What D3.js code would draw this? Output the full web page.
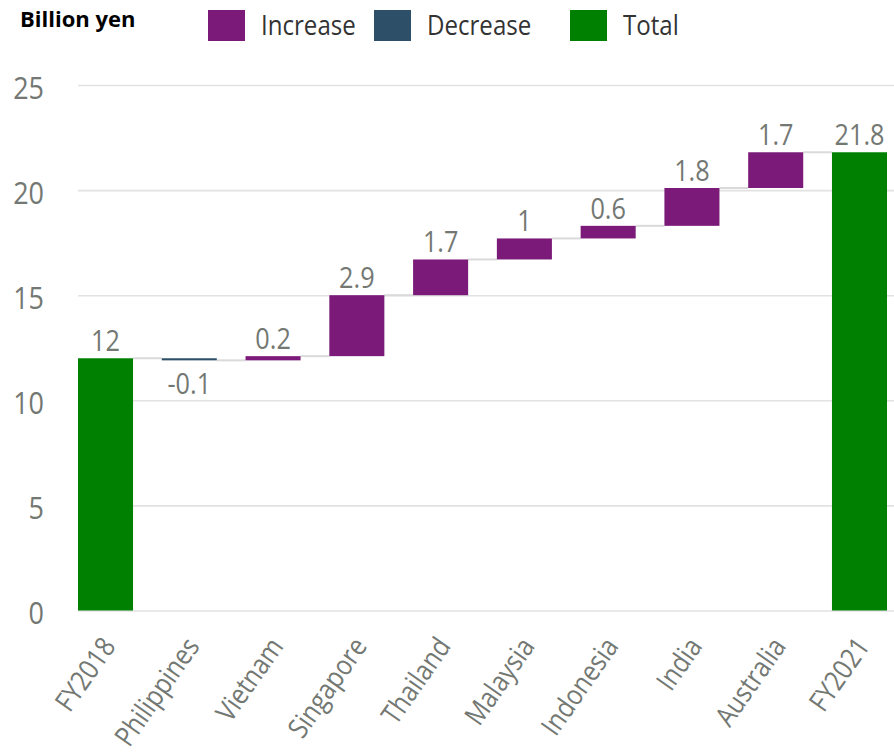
<!DOCTYPE html>
<html>
<head>
<meta charset="utf-8">
<script src="https://cdn.jsdelivr.net/npm/d3@7"></script>
<style>
  body { margin: 0; background: #fff; }
  text { font-family: "Open Sans", "Noto Sans", sans-serif; }
</style>
</head>
<body>
<svg id="chart" width="894" height="754"></svg>
<script>
// Waterfall: change in sales by country, FY2018 -> FY2021 (billion yen)
const categories = ["FY2018", "Philippines", "Vietnam", "Singapore", "Thailand",
                    "Malaysia", "Indonesia", "India", "Australia", "FY2021"];
const values = [12, -0.1, 0.2, 2.9, 1.7, 1, 0.6, 1.8, 1.7, 21.8];
const kinds = ["total", "decrease", "increase", "increase", "increase",
               "increase", "increase", "increase", "increase", "total"];
const yTicks = [0, 5, 10, 15, 20, 25];
const legendLabels = ["Increase", "Decrease", "Total"];
const legendKinds = ["increase", "decrease", "total"];
const unitLabel = "Billion yen";

const colors = { increase: "#7b1a78", decrease: "#2d5068", total: "#008000" };
const labelColor = "#737873";
const textScaleX = 0.87;

// running totals give each bar its start and end
let running = 0;
const bars = categories.map((c, i) => {
  let start, end;
  if (kinds[i] === "total") { start = 0; end = values[i]; }
  else { start = running; end = running + values[i]; }
  running = end;
  return { cat: c, value: values[i], kind: kinds[i], start, end };
});

const svg = d3.select("#chart");

const x = d3.scaleBand().domain(categories).range([78, 887])
  .paddingInner(0.343).paddingOuter(0);
const y = d3.scaleLinear().domain([0, 25]).range([610.5, 85]);

// gridlines + y tick labels
const yAxis = svg.append("g")
  .attr("transform", "translate(78,0)")
  .call(d3.axisLeft(y).tickValues(yTicks).tickSizeInner(-816).tickSizeOuter(0).tickFormat(d3.format("d")));
yAxis.select(".domain").remove();
yAxis.selectAll(".tick line").attr("stroke", "#e2e2e2").attr("stroke-width", 1.6);
yAxis.selectAll(".tick text")
  .attr("x", null).attr("dy", "0.42em")
  .attr("transform", `translate(-34,0) scale(${textScaleX},1)`)
  .attr("text-anchor", "end")
  .attr("fill", labelColor)
  .style("font-size", "31px");

// connectors between consecutive bars at the running total
svg.append("g").selectAll("line")
  .data(bars.slice(0, -1))
  .join("line")
  .attr("x1", (d) => x(d.cat) + x.bandwidth())
  .attr("x2", (d, i) => x(categories[i + 1]))
  .attr("y1", (d) => y(d.end))
  .attr("y2", (d) => y(d.end))
  .attr("stroke", "#dadada")
  .attr("stroke-width", 2);

// bars
svg.append("g").selectAll("rect")
  .data(bars)
  .join("rect")
  .attr("x", (d) => x(d.cat))
  .attr("width", x.bandwidth())
  .attr("y", (d) => y(Math.max(d.start, d.end)))
  .attr("height", (d) => Math.abs(y(d.start) - y(d.end)))
  .attr("fill", (d) => colors[d.kind]);

// value labels (plain hyphen for negatives)
const fmtValue = (v) => d3.format("~g")(v).replace("\u2212", "-");
svg.append("g").selectAll("text")
  .data(bars)
  .join("text")
  .attr("transform", (d) => {
    const cx = x(d.cat) + x.bandwidth() / 2;
    const ty = d.kind === "decrease" ? y(Math.min(d.start, d.end)) + 34 : y(Math.max(d.start, d.end)) - 7;
    return `translate(${cx},${ty}) scale(${textScaleX},1)`;
  })
  .attr("text-anchor", "middle")
  .attr("fill", labelColor)
  .style("font-size", "29px")
  .text((d) => fmtValue(d.value));

// rotated category labels
svg.append("g").selectAll("text")
  .data(categories)
  .join("text")
  .attr("transform", (d) => `translate(${x(d) + x.bandwidth() / 2 - 5},635) rotate(-55) scale(${textScaleX},1)`)
  .attr("text-anchor", "end")
  .attr("dy", "0.71em")
  .attr("fill", labelColor)
  .style("font-size", "28px")
  .text((d) => d);

// unit label
svg.append("text")
  .attr("x", 20).attr("y", 27)
  .attr("fill", "#000")
  .style("font-size", "22px")
  .style("font-weight", "bold")
  .text(unitLabel);

// legend
const legendX = [208, 374, 570];
const legend = svg.append("g").selectAll("g")
  .data(legendLabels)
  .join("g")
  .attr("transform", (d, i) => `translate(${legendX[i]},10)`);
legend.append("rect")
  .attr("width", 37).attr("height", 31)
  .attr("fill", (d, i) => colors[legendKinds[i]]);
legend.append("text")
  .attr("transform", `translate(53,25) scale(0.86,1)`)
  .attr("fill", "#333")
  .style("font-size", "28px")
  .text((d) => d);
</script>
</body>
</html>
